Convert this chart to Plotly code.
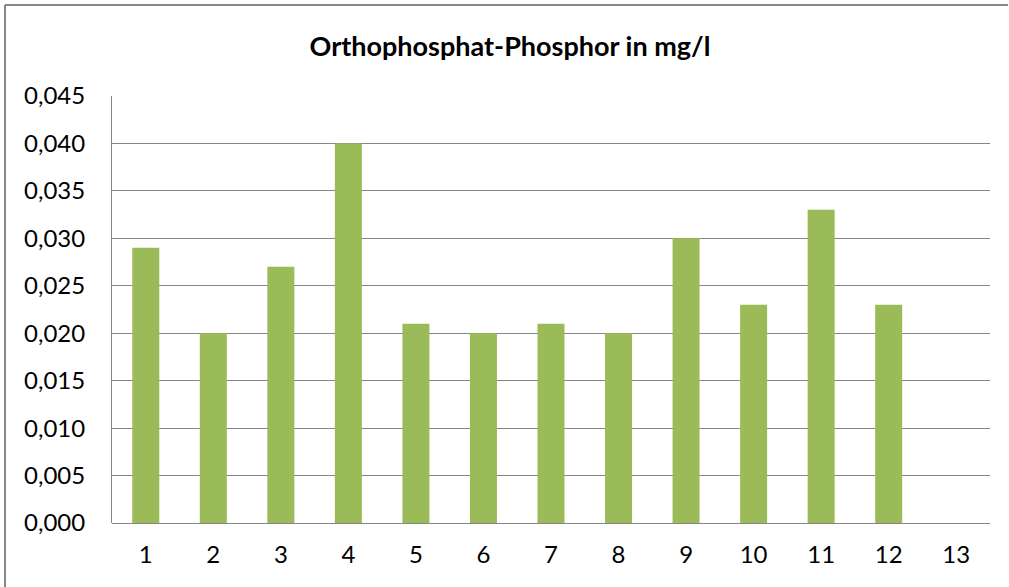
import plotly.graph_objects as go

# sample numbers 1..13, value for 13 missing
categories = [str(i) for i in range(1, 14)]
values = [0.029, 0.020, 0.027, 0.040, 0.021, 0.020, 0.021, 0.020,
          0.030, 0.023, 0.033, 0.023, None]
y_ticks = [0.000, 0.005, 0.010, 0.015, 0.020, 0.025, 0.030, 0.035, 0.040, 0.045]
y_tick_labels = [f"{v:.3f}".replace(".", ",") for v in y_ticks]

W, H = 1009, 587
L, R, T, B = 112, 19, 96, 64
pw, ph = W - L - R, H - T - B

fig = go.Figure(
    go.Bar(
        x=categories,
        y=values,
        marker=dict(color="#9BBB59", line=dict(width=0)),
    )
)

axis_font = dict(family="Lato, Open Sans, sans-serif", size=24, color="black")
fig.update_xaxes(
    type="category",
    showgrid=False,
    showline=False,
    ticks="",
    ticklabelstandoff=15,
    tickfont=axis_font,
    fixedrange=True,
)
fig.update_yaxes(
    range=[0, 0.045],
    tickvals=y_ticks,
    ticktext=y_tick_labels,
    showgrid=True,
    gridcolor="#868686",
    gridwidth=1,
    zeroline=True,
    zerolinecolor="#868686",
    zerolinewidth=1,
    showline=True,
    linecolor="#868686",
    linewidth=1,
    ticks="",
    ticklabelstandoff=21,
    tickfont=axis_font,
    fixedrange=True,
)

# outer chart border: only the left and top edges fall inside the picture
bx0 = (5 - L) / pw
by1 = (H - B - 5) / ph
border = dict(color="#868686", width=2)
fig.add_shape(type="line", xref="paper", yref="paper",
              x0=bx0, x1=bx0, y0=-(B + 5) / ph, y1=by1, line=border)
fig.add_shape(type="line", xref="paper", yref="paper",
              x0=bx0, x1=(W - 1 - L) / pw, y0=by1, y1=by1, line=border)

fig.update_layout(
    width=W,
    height=H,
    bargap=0.6,
    showlegend=False,
    plot_bgcolor="white",
    paper_bgcolor="white",
    margin=dict(l=L, r=R, t=T, b=B),
    title=dict(
        text="<b>Orthophosphat-Phosphor in mg/l</b>",
        x=510 / W,
        xanchor="center",
        y=1 - 47 / H,
        yanchor="middle",
        font=dict(family="Lato, Open Sans, sans-serif", size=27, color="black"),
    ),
)

fig.write_html(
    "out.html",
    config={"displayModeBar": False},
    post_script="document.body.style.margin='0';document.body.style.overflow='hidden';",
)
